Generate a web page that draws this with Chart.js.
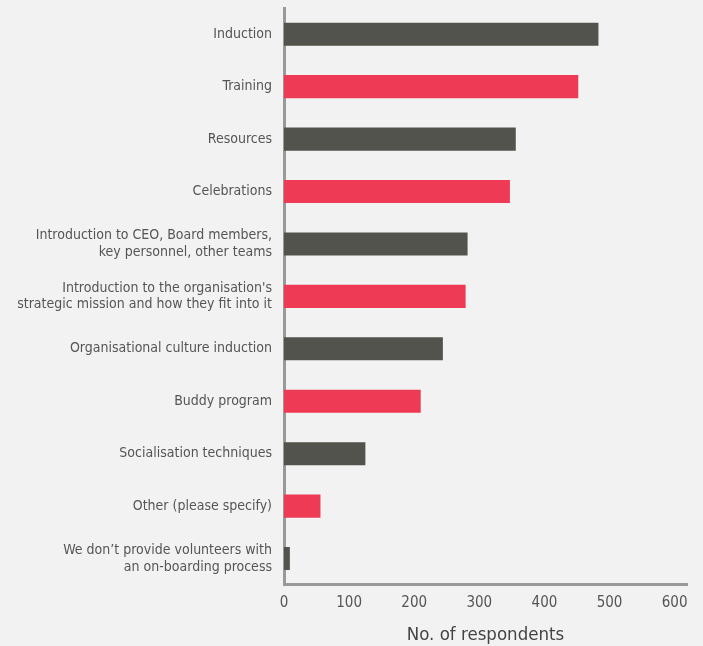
<!DOCTYPE html>
<html>
<head>
<meta charset="utf-8">
<script src="https://cdn.jsdelivr.net/npm/chart.js@4.4.1/dist/chart.umd.min.js"></script>
<style>
  html, body { margin: 0; padding: 0; background: #f2f2f2; }
  #wrap { width: 703px; height: 646px; position: relative; }
</style>
</head>
<body>
<div id="wrap"><canvas id="chart"></canvas></div>
<script>
// categories, top to bottom
const categories = [
    'Induction',
    'Training',
    'Resources',
    'Celebrations',
    ['Introduction to CEO, Board members,', 'key personnel, other teams'],
    ["Introduction to the organisation's", 'strategic mission and how they fit into it'],
    'Organisational culture induction',
    'Buddy program',
    'Socialisation techniques',
    'Other (please specify)',
    ['We don\u2019t provide volunteers with', 'an on-boarding process']
];
const respondents = [483, 452, 356, 347, 282, 279, 244, 210, 125, 56, 9];
const xTicks = [0, 100, 200, 300, 400, 500, 600];
const axisTitle = 'No. of respondents';

const DARK = '#53534d';
const RED = '#ef3a55';
const FONT = "'Liberation Sans Narrow', 'DejaVu Sans Condensed', sans-serif";

const ctx = document.getElementById('chart').getContext('2d');
new Chart(ctx, {
    type: 'bar',
    data: {
        labels: categories,
        datasets: [{
            data: respondents,
            backgroundColor: respondents.map((v, i) => i % 2 === 0 ? DARK : RED),
            barPercentage: 0.44,
            categoryPercentage: 1.0
        }]
    },
    options: {
        indexAxis: 'y',
        responsive: true,
        maintainAspectRatio: false,
        animation: false,
        layout: { padding: { top: 8, right: 16, bottom: 0, left: 0 } },
        plugins: {
            legend: { display: false },
            tooltip: { enabled: false }
        },
        scales: {
            x: {
                min: 0,
                max: 619,
                afterBuildTicks: scale => {
                    scale.ticks = xTicks.map(v => ({ value: v }));
                },
                grid: { display: false, drawTicks: false },
                border: { display: true, color: '#999999', width: 3 },
                ticks: {
                    color: '#555555',
                    font: { family: FONT, size: 15 },
                    padding: 9
                },
                title: {
                    display: true,
                    text: axisTitle,
                    color: '#444444',
                    font: { family: FONT, size: 18.5 },
                    padding: { top: 3, bottom: 0 }
                }
            },
            y: {
                afterFit: scale => {
                    scale.width = 284;
                    scale.paddingTop = 0;
                    scale.paddingBottom = 0;
                },
                grid: { display: false, drawTicks: false },
                border: { display: true, color: '#999999', width: 3 },
                ticks: {
                    color: '#555555',
                    font: { family: FONT, size: 14, lineHeight: 1.2 },
                    padding: 12
                }
            }
        }
    }
});
</script>
</body>
</html>
